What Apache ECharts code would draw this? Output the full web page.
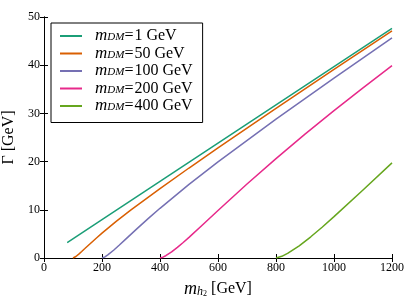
<!DOCTYPE html>
<html><head><meta charset="utf-8">
<script src="https://cdn.jsdelivr.net/npm/echarts@6/dist/echarts.min.js"></script>
<style>html,body{margin:0;padding:0;background:#fff}#c{width:415px;height:306px}</style>
</head><body><div id="c"></div>
<script>
const seriesNames = ['m_DM=1 GeV','m_DM=50 GeV','m_DM=100 GeV','m_DM=200 GeV','m_DM=400 GeV'];
const colors = ['#1b9e77','#d95f02','#7570b3','#e7298a','#66a61e'];
const x1 = [80,200,400,600,800,1000,1200];
const y1 = [3.18,7.94,15.88,23.82,31.76,39.7,47.64];
const x50 = [100,105,110,120,130,140,160,180,200,250,300,400,500,600,800,1000,1200];
const y50 = [0,0.118,0.316,0.805,1.347,1.905,3.022,4.108,5.157,7.641,9.982,14.41,18.67,22.83,31.02,39.11,47.14];
const x100 = [200,210,220,240,260,280,320,360,400,500,600,800,1000,1200];
const y100 = [0,0.236,0.632,1.61,2.694,3.81,6.044,8.216,10.31,15.28,19.96,28.82,37.34,45.66];
const x200 = [400,410,420,440,460,480,500,550,600,700,800,900,1000,1100,1200];
const y200 = [0,0.172,0.473,1.263,2.199,3.219,4.288,7.061,9.865,15.36,20.63,25.69,30.56,35.31,39.93];
const x400 = [800,820,840,880,920,960,1000,1100,1200];
const y400 = [0,0.344,0.946,2.526,4.398,6.438,8.576,14.12,19.73];
const xTicks = [0,200,400,600,800,1000,1200];
const yTicks = [0,10,20,30,40,50];

const allX = [x1,x50,x100,x200,x400];
const allY = [y1,y50,y100,y200,y400];
const serif = "Liberation Serif";
const chart = echarts.init(document.getElementById('c'), null, {renderer:'canvas'});
const baseAxis = {
  axisLine:{show:true,lineStyle:{color:'#000',width:1}},
  axisTick:{show:true,inside:true,length:4,lineStyle:{color:'#000',width:1}},
  splitLine:{show:false}
};
chart.setOption({
  animation:false,
  grid:{left:44,right:23,top:17,bottom:48,outerBoundsMode:'none',containLabel:false},
  legend:{
    orient:'vertical', left:51, top:23,
    padding:[4,10,8,8], itemGap:0, itemWidth:22, itemHeight:14,
    borderColor:'#000', borderWidth:1, backgroundColor:'#fff',
    itemStyle:{opacity:0},
    data:seriesNames,
    formatter: n => { const v = n.replace('m_DM=','').replace(' GeV',''); return '{m|m}{s|DM}{e|=}{t|'+v+' GeV}'; },
    textStyle:{
      padding:[0,0,0,8],
      rich:{
        m:{fontFamily:serif,fontStyle:'italic',fontSize:17,color:'#000',lineHeight:14},
        s:{fontFamily:serif,fontStyle:'italic',fontSize:11,color:'#000',lineHeight:14,verticalAlign:'bottom',padding:[5,0,0,0]},
        e:{fontFamily:serif,fontSize:16,color:'#000',lineHeight:14,padding:[0,1,0,0]},
        t:{fontFamily:serif,fontSize:16,color:'#000',lineHeight:14}
      }
    }
  },
  xAxis:[
    Object.assign({}, baseAxis, {
      type:'value', min:0, max:1200, interval:200, position:'bottom',
      axisLabel:{show:true,fontFamily:serif,fontSize:12,color:'#000',margin:4,formatter:v=>String(v),customValues:xTicks},
      name:'{m|m}{s|h}{ss|2}{t| [GeV]}', nameLocation:'middle', nameGap:22,
      nameTextStyle:{rich:{
        m:{fontFamily:serif,fontStyle:'italic',fontSize:18,color:'#000'},
        s:{fontFamily:serif,fontStyle:'italic',fontSize:12,color:'#000',verticalAlign:'bottom',padding:[6,0,0,0]},
        ss:{fontFamily:serif,fontSize:8,color:'#000',verticalAlign:'bottom',padding:[10,0,0,0]},
        t:{fontFamily:serif,fontSize:16,color:'#000'}
      }}
    }),
    Object.assign({}, baseAxis, {type:'value',min:0,max:1200,interval:200,position:'top',axisLabel:{show:false}})
  ],
  yAxis:[
    Object.assign({}, baseAxis, {
      type:'value', min:0, max:50, interval:10, position:'left',
      axisLabel:{show:true,fontFamily:serif,fontSize:12,color:'#000',margin:4,formatter:v=>String(v),customValues:yTicks},
      name:'Γ [GeV]', nameLocation:'middle', nameGap:24, nameRotate:90,
      nameTextStyle:{fontFamily:serif,fontSize:16,color:'#000'}
    }),
    Object.assign({}, baseAxis, {type:'value',min:0,max:50,interval:10,position:'right',axisLabel:{show:false}})
  ],
  series: seriesNames.map((n,i)=>({
    name:n, type:'line', symbol:'none', showSymbol:false, smooth:false,
    color:colors[i],
    lineStyle:{color:colors[i],width:1.5},
    data: allX[i].map((x,j)=>[x, allY[i][j]])
  }))
});
</script></body></html>
